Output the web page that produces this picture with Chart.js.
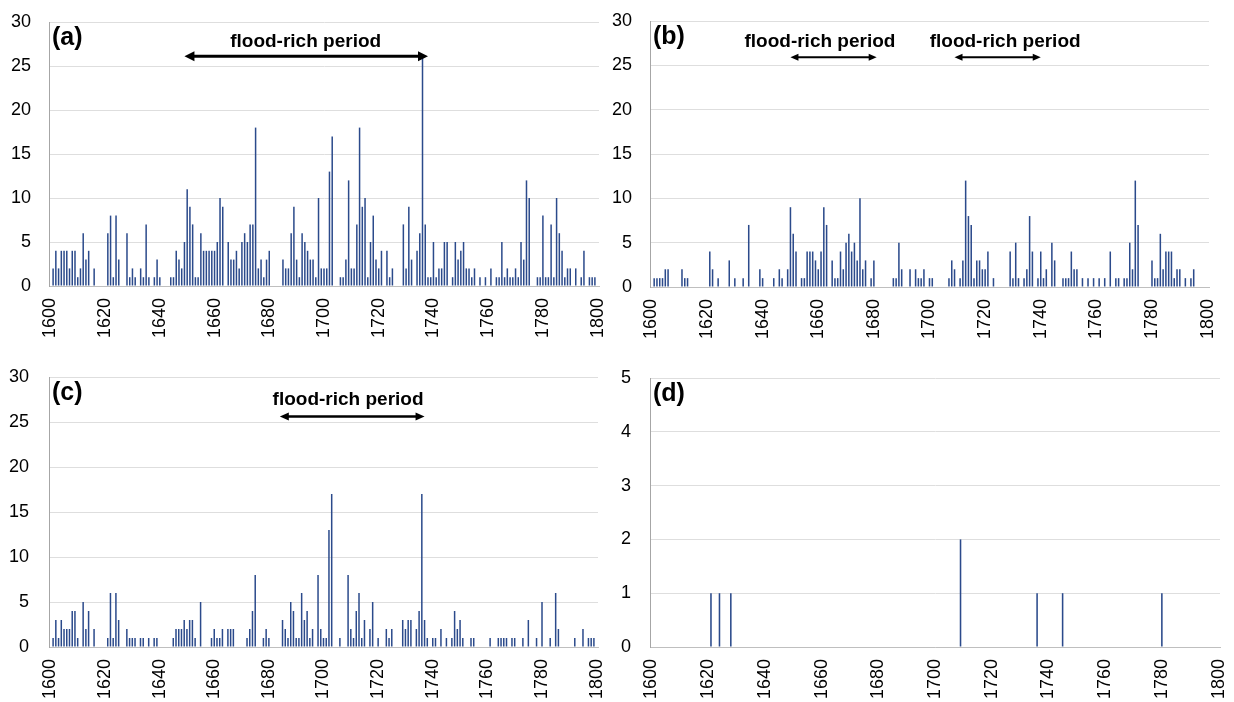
<!DOCTYPE html>
<html>
<head>
<meta charset="utf-8">
<script src="https://cdn.jsdelivr.net/npm/chart.js@4.4.1/dist/chart.umd.min.js"></script>
<style>
  html, body { margin: 0; padding: 0; background: #fff; }
  body { width: 1234px; height: 702px; position: relative; overflow: hidden; }
  .panel { position: absolute; }
</style>
</head>
<body>
<div class="panel" style="left:0;top:0;width:617px;height:351px"><canvas id="chartA"></canvas></div>
<div class="panel" style="left:600px;top:0;width:634px;height:351px"><canvas id="chartB"></canvas></div>
<div class="panel" style="left:0;top:351px;width:617px;height:351px"><canvas id="chartC"></canvas></div>
<div class="panel" style="left:600px;top:351px;width:634px;height:351px"><canvas id="chartD"></canvas></div>
<script>
// years on the category axis
const firstYear = 1600;
const lastYear = 1800;
const tickYears = [1600, 1620, 1640, 1660, 1680, 1700, 1720, 1740, 1760, 1780, 1800];

// (a) years with floods and number of floods
const yearsA = [1601,1602,1603,1604,1605,1606,1607,1608,1609,1610,1611,1612,1613,1614,1616,
  1621,1622,1623,1624,1625,1628,1629,1630,1631,1633,1634,1635,1636,1638,1639,1640,
  1644,1645,1646,1647,1648,1649,1650,1651,1652,1653,1654,1655,1656,1657,1658,1659,1660,1661,1662,1663,
  1665,1666,1667,1668,1669,1670,1671,1672,1673,1674,1675,1676,1677,1678,1679,1680,
  1685,1686,1687,1688,1689,1690,1691,1692,1693,1694,1695,1696,1697,1698,1699,1700,1701,1702,1703,
  1706,1707,1708,1709,1710,1711,1712,1713,1714,1715,1716,1717,1718,1719,1720,1721,1723,1724,1725,
  1729,1730,1731,1732,1734,1735,1736,1737,1738,1739,1740,1741,1742,1743,1744,1745,1747,1748,1749,1750,
  1751,1752,1753,1754,1755,1757,1759,1761,1763,1764,1765,1766,1767,1768,1769,1770,1771,1772,1773,1774,1775,
  1778,1779,1780,1781,1782,1783,1784,1785,1786,1787,1788,1789,1790,1792,1794,1795,1797,1798,1799];
const floodsA = [2,4,2,4,4,4,2,4,4,1,2,6,3,4,2,
  6,8,1,8,3,6,1,2,1,2,1,7,1,1,3,1,
  1,1,4,3,2,5,11,9,7,1,1,6,4,4,4,4,4,5,10,9,
  5,3,3,4,2,5,6,5,7,7,18,2,3,1,3,4,
  3,2,2,6,9,3,1,6,5,4,3,3,1,10,2,2,2,13,17,
  1,1,3,12,2,2,7,18,9,10,1,5,8,3,2,4,4,1,2,
  7,2,9,3,4,6,26,7,1,1,5,1,2,2,5,5,1,5,3,4,
  5,2,2,1,2,1,1,2,1,1,5,1,2,1,1,2,1,5,3,12,10,
  1,1,8,1,1,7,1,10,6,4,1,2,2,2,1,4,1,1,1];

// (b)
const yearsB = [1601,1602,1603,1604,1605,1606,1611,1612,1613,
  1621,1622,1624,1628,1630,1633,1635,1639,1640,
  1644,1646,1647,1649,1650,1651,1652,1654,1655,1656,1657,1658,1659,1660,1661,1662,1663,
  1665,1666,1667,1668,1669,1670,1671,1672,1673,1674,1675,1676,1677,1679,1680,
  1687,1688,1689,1690,1693,1695,1696,1697,1698,1700,1701,
  1707,1708,1709,1711,1712,1713,1714,1715,1716,1717,1718,1719,1720,1721,1723,
  1729,1730,1731,1732,1734,1735,1736,1737,1739,1740,1741,1742,1744,1745,
  1748,1749,1750,1751,1752,1753,1755,1757,1759,1761,1763,1765,1767,1768,1770,1771,1772,1773,1774,1775,
  1780,1781,1782,1783,1784,1785,1786,1787,1788,1789,1790,1792,1794,1795];
const floodsB = [1,1,1,1,2,2,2,1,1,
  4,2,1,3,1,1,7,2,1,
  1,2,1,2,9,6,4,1,1,4,4,4,3,2,4,9,7,
  3,1,1,4,2,5,6,4,5,3,10,2,3,1,3,
  1,1,5,2,2,2,1,1,2,1,1,
  1,3,2,1,3,12,8,7,1,3,3,2,2,4,1,
  4,1,5,1,1,2,8,4,1,4,1,2,5,3,
  1,1,1,4,2,2,1,1,1,1,1,4,1,1,1,1,5,2,12,7,
  3,1,1,6,2,4,4,4,1,2,2,1,1,2];

// (c)
const yearsC = [1601,1602,1603,1604,1605,1606,1607,1608,1609,1610,1612,1613,1614,1616,
  1621,1622,1623,1624,1625,1628,1629,1630,1631,1633,1634,1636,1638,1639,
  1645,1646,1647,1648,1649,1650,1651,1652,1653,1655,
  1659,1660,1661,1662,1663,1665,1666,1667,
  1672,1673,1674,1675,1678,1679,1680,
  1685,1686,1687,1688,1689,1690,1691,1692,1693,1694,1695,1696,1698,1699,1700,1701,1702,1703,
  1706,1709,1710,1711,1712,1713,1714,1715,1717,1718,1720,1723,1724,1725,
  1729,1730,1731,1732,1734,1735,1736,1737,1738,1740,1741,1743,1745,1747,1748,1749,1750,1751,1754,1755,
  1761,1764,1765,1766,1767,1769,1770,1773,1775,1778,1780,1783,1785,1786,1792,1795,1797,1798,1799];
const floodsC = [1,3,1,3,2,2,2,4,4,1,5,2,4,2,
  1,6,1,6,3,2,1,1,1,1,1,1,1,1,
  1,2,2,2,3,2,3,3,1,5,
  1,2,1,1,2,2,2,2,
  1,2,4,8,1,2,1,
  3,2,1,5,4,1,1,6,3,4,1,2,8,2,1,1,13,17,
  1,8,2,1,4,6,1,3,2,5,1,2,1,2,
  3,2,3,3,2,4,17,3,1,1,1,2,1,1,4,2,3,1,1,1,
  1,1,1,1,1,1,1,1,3,1,5,1,6,2,1,2,1,1,1];

// (d)
const yearsD = [1621, 1624, 1628, 1709, 1736, 1745, 1780];
const floodsD = [1, 1, 1, 2, 1, 1, 1];

// flood-rich periods: arrow from/to (year), arrow level and label position
const periodsA = [{ from: 1649, to: 1738, level: 26.1, textYear: 1693.3, textLevel: 27.7 }];
const periodsB = [
  { from: 1650, to: 1681, level: 25.9, textYear: 1660.6, textLevel: 27.65 },
  { from: 1709, to: 1740, level: 25.9, textYear: 1727.2, textLevel: 27.65 }
];
const periodsC = [{ from: 1684, to: 1737, level: 25.6, textYear: 1709, textLevel: 27.5 }];

const years = [];
for (let y = firstYear; y <= lastYear; y++) years.push(y);

function toSeries(yrs, vals) {
  const s = years.map(() => 0);
  yrs.forEach((y, i) => { s[y - firstYear] = vals[i]; });
  return s;
}

Chart.defaults.font.family = '"Liberation Sans", Arial, sans-serif';

const floodMarks = {
  id: 'floodMarks',
  afterDraw(chart, args, o) {
    const { ctx, chartArea } = chart;
    const x = chart.scales.x, y = chart.scales.y;
    ctx.save();
    ctx.fillStyle = '#000';
    ctx.strokeStyle = '#000';
    ctx.font = 'bold 25px "Liberation Sans", Arial, sans-serif';
    ctx.textBaseline = 'middle';
    ctx.textAlign = 'left';
    ctx.fillText(o.tag, chartArea.left + 3, chartArea.top + 16);

    ctx.font = 'bold 19px "Liberation Sans", Arial, sans-serif';
    ctx.textAlign = 'center';
    (o.periods || []).forEach(p => {
      const x0 = x.getPixelForValue(p.from - firstYear);
      const x1 = x.getPixelForValue(p.to - firstYear);
      const ay = y.getPixelForValue(p.level);
      ctx.fillText('flood-rich period', x.getPixelForValue(p.textYear - firstYear), y.getPixelForValue(p.textLevel));
      const hl = o.headLen, hw = o.headWidth;
      ctx.lineWidth = o.lineWidth;
      ctx.beginPath();
      ctx.moveTo(x0 + hl - 1, ay);
      ctx.lineTo(x1 - hl + 1, ay);
      ctx.stroke();
      ctx.beginPath();
      ctx.moveTo(x0, ay);
      ctx.lineTo(x0 + hl, ay - hw);
      ctx.lineTo(x0 + hl, ay + hw);
      ctx.closePath();
      ctx.fill();
      ctx.beginPath();
      ctx.moveTo(x1, ay);
      ctx.lineTo(x1 - hl, ay - hw);
      ctx.lineTo(x1 - hl, ay + hw);
      ctx.closePath();
      ctx.fill();
    });
    ctx.restore();
  }
};

function makeChart(id, series, opt) {
  return new Chart(document.getElementById(id), {
    type: 'bar',
    data: {
      labels: years,
      datasets: [{
        data: series,
        backgroundColor: '#2b4a8b',
        barPercentage: 0.55,
        categoryPercentage: 1
      }]
    },
    options: {
      responsive: true,
      maintainAspectRatio: false,
      animation: false,
      layout: { padding: { top: opt.padTop, right: opt.padRight, left: 0, bottom: 0 } },
      plugins: {
        legend: { display: false },
        tooltip: { enabled: false },
        floodMarks: {
          tag: opt.tag, periods: opt.periods,
          lineWidth: opt.lineWidth || 2.5, headLen: opt.headLen || 9, headWidth: opt.headWidth || 4.5
        }
      },
      scales: {
        x: {
          grid: { display: false, drawTicks: false },
          border: { display: true, color: '#bfbfbf' },
          ticks: {
            autoSkip: false, maxRotation: 90, minRotation: 90, padding: 12,
            color: '#000', font: { size: 18 },
            callback: function (v, i) {
              return tickYears.includes(years[i]) ? String(years[i]) : null;
            }
          },
          afterFit: s => { s.height = opt.xHeight; s.paddingLeft = 0; s.paddingRight = 0; }
        },
        y: {
          min: 0,
          max: opt.yMax,
          ticks: { stepSize: opt.yStep, padding: opt.yPad, color: '#000', font: { size: 18 } },
          grid: { color: '#dedede', drawTicks: false },
          border: { display: true, color: '#a6a6a6' },
          afterFit: s => { s.width = opt.yWidth; s.paddingTop = 0; s.paddingBottom = 0; }
        }
      }
    },
    plugins: [floodMarks]
  });
}

makeChart('chartA', toSeries(yearsA, floodsA), {
  tag: '(a)', periods: periodsA, yMax: 30, yStep: 5,
  padTop: 22, padRight: 18, xHeight: 65, yWidth: 49, yPad: 18,
  lineWidth: 3, headLen: 10, headWidth: 5
});
makeChart('chartB', toSeries(yearsB, floodsB), {
  tag: '(b)', periods: periodsB, yMax: 30, yStep: 5,
  padTop: 21, padRight: 25, xHeight: 64, yWidth: 50, yPad: 18,
  lineWidth: 2, headLen: 8, headWidth: 3.5
});
makeChart('chartC', toSeries(yearsC, floodsC), {
  tag: '(c)', periods: periodsC, yMax: 30, yStep: 5,
  padTop: 26, padRight: 19, xHeight: 55, yWidth: 49, yPad: 20,
  lineWidth: 2.5, headLen: 9, headWidth: 4
});
makeChart('chartD', toSeries(yearsD, floodsD), {
  tag: '(d)', periods: [], yMax: 5, yStep: 1,
  padTop: 27, padRight: 14, xHeight: 55, yWidth: 50, yPad: 19
});
</script>
</body>
</html>
